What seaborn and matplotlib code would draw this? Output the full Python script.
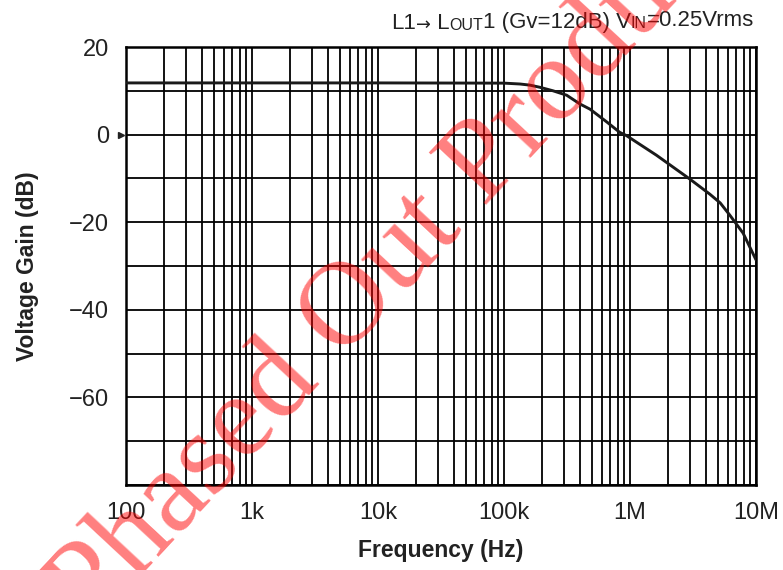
import numpy as np
import pandas as pd
import matplotlib
matplotlib.use("Agg")
import matplotlib.pyplot as plt
import seaborn as sns
from matplotlib.ticker import FixedLocator, NullFormatter, LogLocator

# ---- data ----
freq_hz = [100, 1e3, 1e4, 1e5, 1.34e5, 1.6e5, 1.93e5, 2.45e5, 3.14e5, 4.0e5,
           4.82e5, 6.6e5, 8.3e5, 9.34e5, 1.62e6, 3.0e6, 4.3e6, 5.2e6, 6.2e6,
           7.9e6, 1e7]
gain_db = [11.8, 11.8, 11.8, 11.75, 11.55, 11.3, 10.8, 10.0, 9.0, 7.0,
           5.8, 2.8, 0.5, -0.2, -4.7, -10.2, -13.6, -15.6, -18.4,
           -22.5, -28.6]
x_tick_values = [1e2, 1e3, 1e4, 1e5, 1e6, 1e7]
x_tick_labels = ["100", "1k", "10k", "100k", "1M", "10M"]
y_tick_values = [20, 0, -20, -40, -60]
y_tick_labels = ["20", "0", "\u221220", "\u221240", "\u221260"]
title_parts = [("L1", False), ("\u2192", False), (" L", False), ("OUT", True),
               ("1 (Gv=12dB) V", False), ("IN", True), ("=0.25Vrms", False)]
watermark = "Phased Out Product"

df = pd.DataFrame({"Frequency": freq_hz, "Gain": gain_db})

sns.set_theme(style="white")
plt.rcParams["font.family"] = ["Liberation Sans", "DejaVu Sans"]

W, H = 783, 570
fig = plt.figure(figsize=(W / 100, H / 100), dpi=100)
ax = fig.add_axes([126 / W, 1 - 485 / H, (756 - 126) / W, (485 - 47) / H])

sns.lineplot(data=df, x="Frequency", y="Gain", ax=ax, color="#1a1a1a",
             linewidth=2.1, zorder=5)
ax.set_xscale("log")
ax.set_xlim(1e2, 1e7)
ax.set_ylim(-80, 20)

# grid
ax.xaxis.set_major_locator(FixedLocator(x_tick_values))
ax.xaxis.set_minor_locator(LogLocator(base=10, subs=np.arange(2, 10)))
ax.xaxis.set_minor_formatter(NullFormatter())
ax.set_xticklabels(x_tick_labels)
ax.yaxis.set_major_locator(FixedLocator(y_tick_values))
ax.set_yticklabels(y_tick_labels)
ax.yaxis.set_minor_locator(FixedLocator(np.arange(-80, 21, 10)))
ax.grid(True, which="both", axis="both", color="black", linewidth=1.3)
ax.tick_params(axis="both", which="both", length=0, labelsize=17,
               colors="#222222")
ax.tick_params(axis="x", pad=12)
ax.tick_params(axis="y", pad=12)
for s in ax.spines.values():
    s.set_color("black")
    s.set_linewidth(1.8)

ax.set_xlabel("Frequency (Hz)", fontsize=16.5, fontweight="bold",
              color="#222222", labelpad=11)
ax.set_ylabel("Voltage Gain (dB)", fontsize=16.5, fontweight="bold",
              color="#222222", labelpad=22)

# 0 dB marker triangle
ax.plot([-0.008], [0], marker=">", color="#222222", markersize=5,
        transform=ax.get_yaxis_transform(), clip_on=False)

# title with small caps pieces
fs = 16
prev = fig.text(391 / W, 1 - 29 / H, title_parts[0][0], fontsize=fs,
                color="#222222", ha="left", va="baseline")
for txt, small in title_parts[1:]:
    kw = {}
    if txt == "\u2192":
        kw["family"] = "DejaVu Sans"
    prev = ax.annotate(txt, xy=(1, 0), xycoords=prev,
                       xytext=(0, 0.9 if small else 0), textcoords="offset points",
                       fontsize=(fs * 0.72 if small else (fs * 0.8 if kw else fs)),
                       color="#222222", ha="left", va="bottom", **kw)

# watermark
fig.text(414 / W, 1 - 283 / H, watermark, fontsize=86, family="Liberation Serif",
         color=(1, 0, 0), alpha=0.5, rotation=47, rotation_mode="anchor",
         ha="center", va="baseline", zorder=10)

fig.savefig("out.png", dpi=100)
